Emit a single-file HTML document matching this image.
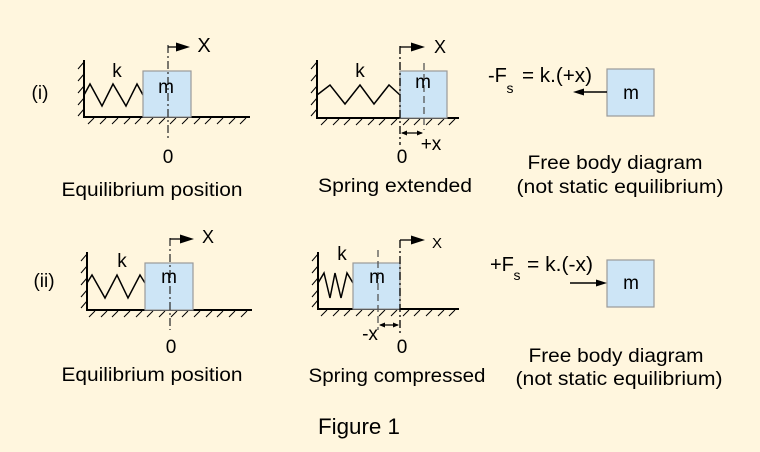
<!DOCTYPE html>
<html><head><meta charset="utf-8"><style>
html,body{margin:0;padding:0;background:#FFF6DE;}
svg{display:block;}
text{font-family:"Liberation Sans",Arial,sans-serif;fill:#000;}
</style></head><body>
<svg width="760" height="452" viewBox="0 0 760 452" xmlns="http://www.w3.org/2000/svg">
<rect x="0" y="0" width="760" height="452" fill="#FFF6DE"/>

<!-- ===== Row (i) left ===== -->
<g stroke="#000" fill="none">
  <path d="M84 60 L84 117 L250 117" stroke-width="2"/>
  <path d="M84 62 l-6 7 M84 74 l-6 7 M84 86 l-6 7 M84 98 l-6 7 M84 109 l-6 7" stroke-width="1"/>
  <path d="M94 118 l-6 6 M106 118 l-6 6 M118 118 l-6 6 M130 118 l-6 6 M141 118 l-6 6 M153 118 l-6 6 M165 118 l-6 6 M176 118 l-6 6 M188 118 l-6 6 M200 118 l-6 6 M211 118 l-6 6 M223 118 l-6 6 M235 118 l-6 6 M246 118 l-6 6" stroke-width="1"/>
  <path d="M84 95 L90 84 L102 106 L113 84 L126 106 L137 84 L143 95" stroke-width="1.5"/>
</g>
<rect x="143" y="71" width="48" height="46" fill="#CDE5F6" stroke="#9A9A9A" stroke-width="1.2"/>
<path d="M168 45 L168 140" stroke="#333" stroke-width="1.3" stroke-dasharray="8,3,2,3" fill="none"/>
<path d="M168 47 L177 47" stroke="#000" stroke-width="1.3"/>
<polygon points="176,42.5 190,47 176,51.5" fill="#000"/>
<text x="40" y="99" font-size="19" text-anchor="middle">(i)</text>
<text x="117" y="77" font-size="19" text-anchor="middle">k</text>
<text x="166" y="93" font-size="19" text-anchor="middle">m</text>
<text x="204" y="52" font-size="20" text-anchor="middle">X</text>
<text x="168" y="163" font-size="19" text-anchor="middle">0</text>
<text x="152" y="196" font-size="19" text-anchor="middle" textLength="181" lengthAdjust="spacingAndGlyphs">Equilibrium position</text>

<!-- ===== Row (i) middle ===== -->
<g stroke="#000" fill="none">
  <path d="M317 60 L317 118 L459 118" stroke-width="2"/>
  <path d="M317 62 l-6 7 M317 74 l-6 7 M317 86 l-6 7 M317 98 l-6 7 M317 109 l-6 7" stroke-width="1"/>
  <path d="M327 119 l-6 6 M339 119 l-6 6 M350 119 l-6 6 M362 119 l-6 6 M374 119 l-6 6 M385 119 l-6 6 M397 119 l-6 6 M409 119 l-6 6 M420 119 l-6 6 M432 119 l-6 6 M444 119 l-6 6 M455 119 l-6 6" stroke-width="1"/>
  <path d="M317 95 L330 85 L345 104 L360 85 L374 104 L389 85 L400 95" stroke-width="1.5"/>
</g>
<rect x="400" y="71" width="47" height="47" fill="#CDE5F6" stroke="#9A9A9A" stroke-width="1.2"/>
<path d="M400 46 L400 145" stroke="#000" stroke-width="1.3" stroke-dasharray="8,3,2,3" fill="none"/>
<path d="M424 63 L424 130" stroke="#555" stroke-width="1.3" stroke-dasharray="7,4" fill="none"/>
<path d="M400 47 L412 47" stroke="#000" stroke-width="1.3"/>
<polygon points="411,42.5 425,47 411,51.5" fill="#000"/>
<path d="M402 133 L422 133" stroke="#000" stroke-width="1.2"/>
<polygon points="401,133 407,130.5 407,135.5" fill="#000"/>
<polygon points="423,133 417,130.5 417,135.5" fill="#000"/>
<text x="360" y="77" font-size="19" text-anchor="middle">k</text>
<text x="423" y="88" font-size="19" text-anchor="middle">m</text>
<text x="440" y="53" font-size="18" text-anchor="middle">X</text>
<text x="402" y="163" font-size="19" text-anchor="middle">0</text>
<text x="431" y="150" font-size="19" text-anchor="middle">+x</text>
<text x="395" y="192" font-size="19" text-anchor="middle" textLength="154" lengthAdjust="spacingAndGlyphs">Spring extended</text>

<!-- ===== Row (i) FBD ===== -->
<text x="488" y="82" font-size="20">-F</text>
<text x="510" y="93" font-size="14" text-anchor="middle">s</text>
<text x="522" y="82" font-size="20" textLength="70" lengthAdjust="spacingAndGlyphs">= k.(+x)</text>
<rect x="607" y="69" width="47" height="47" fill="#CDE5F6" stroke="#9A9A9A" stroke-width="1.2"/>
<text x="631" y="99" font-size="19" text-anchor="middle">m</text>
<path d="M607 92 L582 92" stroke="#000" stroke-width="1.6"/>
<polygon points="573,92 584,88.5 584,95.5" fill="#000"/>
<text x="615" y="169" font-size="19" text-anchor="middle" textLength="175" lengthAdjust="spacingAndGlyphs">Free body diagram</text>
<text x="620" y="193" font-size="19" text-anchor="middle" textLength="207" lengthAdjust="spacingAndGlyphs">(not static equilibrium)</text>

<!-- ===== Row (ii) left ===== -->
<g stroke="#000" fill="none">
  <path d="M87 252 L87 310 L252 310" stroke-width="2"/>
  <path d="M87 254 l-6 7 M87 266 l-6 7 M87 278 l-6 7 M87 290 l-6 7 M87 301 l-6 7" stroke-width="1"/>
  <path d="M95 311 l-6 6 M107 311 l-6 6 M118 311 l-6 6 M130 311 l-6 6 M142 311 l-6 6 M153 311 l-6 6 M165 311 l-6 6 M177 311 l-6 6 M188 311 l-6 6 M200 311 l-6 6 M212 311 l-6 6 M223 311 l-6 6 M235 311 l-6 6 M247 311 l-6 6" stroke-width="1"/>
  <path d="M87 283 L92 275 L105 298 L117 275 L128 298 L140 275 L145 283" stroke-width="1.5"/>
</g>
<rect x="145" y="263" width="48" height="47" fill="#CDE5F6" stroke="#9A9A9A" stroke-width="1.2"/>
<path d="M170 238 L170 330" stroke="#333" stroke-width="1.3" stroke-dasharray="8,3,2,3" fill="none"/>
<path d="M170 239 L181 239" stroke="#000" stroke-width="1.3"/>
<polygon points="180,234.5 194,239 180,243.5" fill="#000"/>
<text x="44" y="287" font-size="19" text-anchor="middle">(ii)</text>
<text x="122" y="267" font-size="19" text-anchor="middle">k</text>
<text x="169" y="283" font-size="19" text-anchor="middle">m</text>
<text x="208" y="243" font-size="18" text-anchor="middle">X</text>
<text x="171" y="353" font-size="19" text-anchor="middle">0</text>
<text x="152" y="381" font-size="19" text-anchor="middle" textLength="181" lengthAdjust="spacingAndGlyphs">Equilibrium position</text>

<!-- ===== Row (ii) middle ===== -->
<g stroke="#000" fill="none">
  <path d="M318 252 L318 309 L459 309" stroke-width="2"/>
  <path d="M318 254 l-6 7 M318 266 l-6 7 M318 278 l-6 7 M318 290 l-6 7 M318 300 l-6 7" stroke-width="1"/>
  <path d="M327 310 l-6 6 M339 310 l-6 6 M350 310 l-6 6 M362 310 l-6 6 M374 310 l-6 6 M385 310 l-6 6 M397 310 l-6 6 M409 310 l-6 6 M420 310 l-6 6 M432 310 l-6 6 M444 310 l-6 6 M455 310 l-6 6" stroke-width="1"/>
  <path d="M318 283 L324 273 L330 298 L335 273 L341 298 L347 273 L353 283" stroke-width="1.5"/>
</g>
<rect x="353" y="263" width="47" height="46" fill="#CDE5F6" stroke="#9A9A9A" stroke-width="1.2"/>
<path d="M400 240 L400 333" stroke="#000" stroke-width="1.3" stroke-dasharray="8,3,2,3" fill="none"/>
<path d="M378 250 L378 330" stroke="#555" stroke-width="1.3" stroke-dasharray="7,4" fill="none"/>
<path d="M400 240 L412 240" stroke="#000" stroke-width="1.3"/>
<polygon points="411,235.5 425,240 411,244.5" fill="#000"/>
<path d="M380 325 L398 325" stroke="#000" stroke-width="1.2"/>
<polygon points="379,325 385,322.5 385,327.5" fill="#000"/>
<polygon points="399,325 393,322.5 393,327.5" fill="#000"/>
<text x="342" y="260" font-size="19" text-anchor="middle">k</text>
<text x="377" y="283" font-size="19" text-anchor="middle">m</text>
<text x="437" y="248" font-size="15" text-anchor="middle">X</text>
<text x="370" y="340" font-size="19" text-anchor="middle">-x</text>
<text x="402" y="353" font-size="19" text-anchor="middle">0</text>
<text x="397" y="382" font-size="19" text-anchor="middle" textLength="177" lengthAdjust="spacingAndGlyphs">Spring compressed</text>

<!-- ===== Row (ii) FBD ===== -->
<text x="490" y="271" font-size="20">+F</text>
<text x="517" y="280" font-size="14" text-anchor="middle">s</text>
<text x="527" y="271" font-size="20" textLength="66" lengthAdjust="spacingAndGlyphs">= k.(-x)</text>
<rect x="607" y="260" width="47" height="47" fill="#CDE5F6" stroke="#9A9A9A" stroke-width="1.2"/>
<text x="631" y="289" font-size="19" text-anchor="middle">m</text>
<path d="M570 283 L598 283" stroke="#000" stroke-width="1.6"/>
<polygon points="607,283 596,279.5 596,286.5" fill="#000"/>
<text x="616" y="362" font-size="19" text-anchor="middle" textLength="175" lengthAdjust="spacingAndGlyphs">Free body diagram</text>
<text x="619" y="385" font-size="19" text-anchor="middle" textLength="207" lengthAdjust="spacingAndGlyphs">(not static equilibrium)</text>

<!-- Caption -->
<text x="359" y="434" font-size="22" text-anchor="middle" textLength="82" lengthAdjust="spacingAndGlyphs">Figure 1</text>
</svg>
</body></html>
